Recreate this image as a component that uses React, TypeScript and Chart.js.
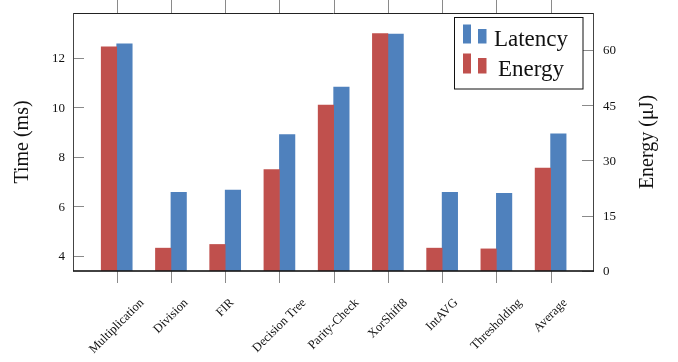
import React, { useEffect, useRef } from 'react';
import { Chart, registerables } from 'chart.js';

Chart.register(...registerables);

// Benchmarks along the x axis
const categories = [
  'Multiplication',
  'Division',
  'FIR',
  'Decision Tree',
  'Parity-Check',
  'XorShift8',
  'IntAVG',
  'Thresholding',
  'Average',
];

// Latency in ms (left axis)
const latencyMs = [12.56, 6.56, 6.66, 8.89, 10.81, 12.95, 6.56, 6.52, 8.92];

// Energy in µJ (right axis)
const energyUJ = [60.8, 6.2, 7.2, 27.5, 45.0, 64.4, 6.2, 6.0, 27.9];

// Tick values for both value axes
const timeTicks = [4, 6, 8, 10, 12];
const energyTicks = [0, 15, 30, 45, 60];

const FONT = "'Liberation Serif', 'Times New Roman', serif";
const RED = '#C0504D';
const BLUE = '#4F81BD';

function line(ctx: CanvasRenderingContext2D, x1: number, y1: number, x2: number, y2: number) {
  ctx.beginPath();
  ctx.moveTo(x1, y1);
  ctx.lineTo(x2, y2);
  ctx.stroke();
}

// Draws the pgfplots-style frame, ticks, labels, titles and legend
const decorPlugin = {
  id: 'decor',
  afterDatasetsDraw(chart: any) {
    const { ctx, chartArea: a, scales } = chart;
    const xs = scales.x;
    const yL = scales.y;
    const yR = scales.y2;
    ctx.save();

    // tick marks
    ctx.strokeStyle = '#8a8a8a';
    ctx.lineWidth = 1;
    categories.forEach((_, i) => {
      const px = Math.round(xs.getPixelForValue(i + 1)) + 0.5;
      line(ctx, px, 0, px, a.top);
      line(ctx, px, a.bottom, px, a.bottom + 12);
    });
    timeTicks.forEach((v) => {
      const py = Math.round(yL.getPixelForValue(v)) + 0.5;
      line(ctx, a.left, py, a.left + 11, py);
    });
    energyTicks.forEach((v) => {
      const py = Math.round(yR.getPixelForValue(v)) + 0.5;
      line(ctx, a.right - 12, py, a.right, py);
    });

    // frame
    ctx.strokeStyle = '#222';
    line(ctx, a.left, a.top + 0.5, a.right, a.top + 0.5);
    ctx.strokeStyle = '#444';
    line(ctx, a.left + 0.5, a.top, a.left + 0.5, a.bottom);
    line(ctx, a.right - 0.5, a.top, a.right - 0.5, a.bottom);
    ctx.strokeStyle = 'rgba(25,25,25,0.82)';
    ctx.lineWidth = 2;
    line(ctx, a.left, a.bottom, a.right, a.bottom);

    // value tick labels
    ctx.fillStyle = '#111';
    ctx.font = `13px ${FONT}`;
    ctx.textBaseline = 'middle';
    ctx.textAlign = 'right';
    timeTicks.forEach((v) => ctx.fillText(String(v), a.left - 8, yL.getPixelForValue(v) + 1));
    ctx.textAlign = 'left';
    energyTicks.forEach((v) => ctx.fillText(String(v), a.right + 9, yR.getPixelForValue(v) + 1));

    // rotated category labels
    ctx.font = `12.5px ${FONT}`;
    ctx.textAlign = 'center';
    categories.forEach((label, i) => {
      const w = ctx.measureText(label).width;
      const h = 11;
      const cx = xs.getPixelForValue(i + 1);
      const cy = a.bottom + 26 + (w + h) * 0.3536;
      ctx.save();
      ctx.translate(cx, cy);
      ctx.rotate(-Math.PI / 4);
      ctx.fillText(label, 0, 0);
      ctx.restore();
    });

    // axis titles
    ctx.font = `20px ${FONT}`;
    const midY = (a.top + a.bottom) / 2;
    ctx.save();
    ctx.translate(23, midY);
    ctx.rotate(-Math.PI / 2);
    ctx.fillText('Time (ms)', 0, 0);
    ctx.restore();
    ctx.save();
    ctx.translate(648, midY);
    ctx.rotate(-Math.PI / 2);
    ctx.fillText('Energy (\u03bcJ)', 0, 0);
    ctx.restore();

    // legend
    const lx = 454;
    const ly = 17.5;
    ctx.fillStyle = '#fff';
    ctx.fillRect(lx, ly, 129, 71.5);
    ctx.strokeStyle = '#111';
    ctx.lineWidth = 1;
    ctx.strokeRect(lx + 0.5, ly, 128.5, 71.5);
    const entries = [
      { label: 'Latency', color: BLUE, top: ly + 7, base: ly + 26 },
      { label: 'Energy', color: RED, top: ly + 36, base: ly + 56 },
    ];
    ctx.font = `23px ${FONT}`;
    ctx.textBaseline = 'alphabetic';
    entries.forEach((e) => {
      ctx.fillStyle = e.color;
      ctx.fillRect(lx + 9, e.top, 8, e.base - e.top);
      ctx.fillRect(lx + 24, e.top + 4.5, 8.5, e.base - e.top - 4.5);
      ctx.fillStyle = '#111';
      ctx.textAlign = 'center';
      ctx.fillText(e.label, lx + 77, e.base + 2.5);
    });

    ctx.restore();
  },
};

export default function App() {
  const canvasRef = useRef<HTMLCanvasElement | null>(null);

  useEffect(() => {
    const canvas = canvasRef.current;
    if (!canvas) return;
    const chart = new Chart(canvas, {
      type: 'bar',
      data: {
        datasets: [
          {
            label: 'Energy',
            data: energyUJ.map((v, i) => ({ x: i + 1, y: v })),
            backgroundColor: RED,
            yAxisID: 'y2',
            barThickness: 15.5,
            clip: 0,
          },
          {
            label: 'Latency',
            data: latencyMs.map((v, i) => ({ x: i + 1, y: v })),
            backgroundColor: BLUE,
            yAxisID: 'y',
            barThickness: 15.5,
            clip: 0,
          },
        ],
      },
      options: {
        animation: false,
        responsive: true,
        maintainAspectRatio: false,
        layout: { padding: { left: 73, top: 13, right: 84, bottom: 91 } },
        plugins: { legend: { display: false }, tooltip: { enabled: false } },
        scales: {
          x: { type: 'linear', min: 0.194, max: 9.8, offset: false, display: false },
          y: { type: 'linear', position: 'left', min: 3.39, max: 13.8, display: false },
          y2: { type: 'linear', position: 'right', min: 0, max: 70, display: false },
        },
      },
      plugins: [decorPlugin],
    });
    return () => chart.destroy();
  }, []);

  return (
    <div style={{ position: 'absolute', left: 0, top: 0, width: 678, height: 362 }}>
      <canvas ref={canvasRef} />
    </div>
  );
}
